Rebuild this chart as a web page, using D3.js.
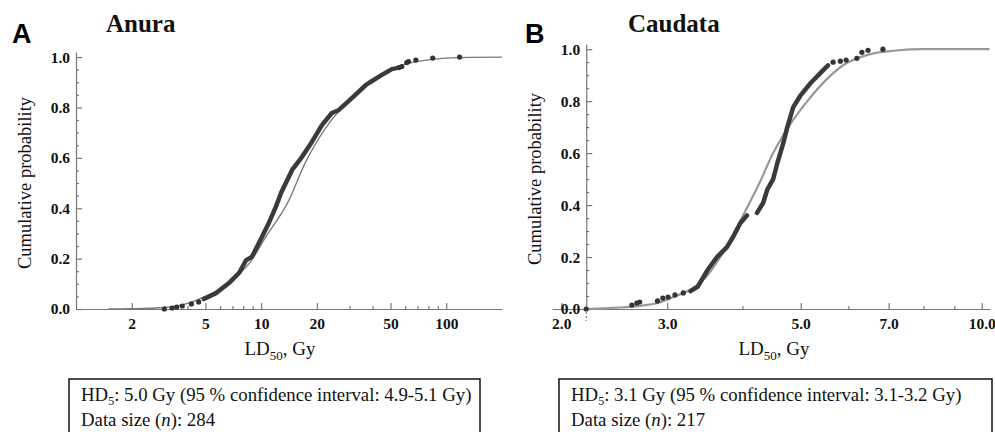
<!DOCTYPE html>
<html>
<head>
<meta charset="utf-8">
<script src="https://cdn.jsdelivr.net/npm/d3@7"></script>
<style>
  body { margin: 0; background: #fff; }
  svg { display: block; }
</style>
</head>
<body>
<svg width="995" height="432"></svg>
<script>
// [LD50 (Gy), cumulative probability]
var anuraDots = [[3.0,0],[3.3,0.004],[3.5,0.008],[3.75,0.012],[4.2,0.02],[4.6,0.028]];
var anuraTrace = [[4.9,0.04],[5.7,0.063],[6.7,0.103],[7.6,0.143],[8.3,0.194],[8.9,0.206],
  [10.1,0.286],[11.0,0.341],[12.0,0.405],[12.8,0.46],[13.6,0.5],[14.7,0.552],[16.6,0.603],
  [18.8,0.663],[21.3,0.73],[24.1,0.778],[26.3,0.79],[30.9,0.837],[36.8,0.889],[38.2,0.897],
  [44.9,0.929],[50.8,0.952],[53.4,0.955]];
var anuraDotsHigh = [[55.5,0.958],[57.5,0.962],[61.2,0.978],[62.5,0.982],[68.5,0.988],[84.5,0.996],[118,1.0]];
var anuraFit = [[1.5,0],[2.0,0.001],[3.0,0.006],[4.0,0.022],[5.0,0.05],[5.7,0.066],[7.3,0.127],
  [8.6,0.18],[10.6,0.286],[14.1,0.43],[17.3,0.58],[23.3,0.738],[32.5,0.85],[43.3,0.925],
  [57.5,0.968],[87,0.992],[132,0.999],[200,1.0]];

var caudataDots = [[2.2,0],[2.62,0.015],[2.67,0.023],[2.7,0.027],[2.89,0.031],[2.95,0.042],
  [3.01,0.046],[3.09,0.054],[3.19,0.062]];
var caudataTrace1 = [[3.28,0.069],[3.37,0.085],[3.5,0.15],[3.63,0.2],[3.77,0.238],[3.86,0.277],
  [3.97,0.331],[4.07,0.36]];
var caudataTrace2 = [[4.23,0.37],[4.33,0.408],[4.4,0.46],[4.5,0.5],[4.57,0.56],[4.68,0.64],
  [4.75,0.7],[4.86,0.777],[4.99,0.82],[5.19,0.869],[5.39,0.908],[5.55,0.938]];
var caudataDotsHigh = [[5.66,0.95],[5.82,0.954],[5.95,0.958],[6.2,0.965],[6.32,0.988],[6.47,0.996],[6.85,1.0]];
var caudataFit = [[2.2,0],[2.48,0.005],[2.7,0.012],[2.89,0.023],[3.1,0.05],[3.28,0.075],[3.5,0.13],
  [3.72,0.22],[4.01,0.36],[4.28,0.49],[4.5,0.6],[4.8,0.71],[5.13,0.8],[5.5,0.88],[5.9,0.94],
  [6.5,0.98],[7.2,0.995],[8,1.0],[10.3,1.0]];

var yMajor = [0, 0.2, 0.4, 0.6, 0.8, 1.0];
var yMinor = d3.range(0, 21).map(function(i){ return i*0.05; }).filter(function(d){ return Math.round(d*100) % 20 != 0; });
var anuraXMajor = [2, 5, 10, 20, 50, 100];
var anuraXMinor = [3, 4, 6, 7, 8, 9, 30, 40, 60, 70, 80, 90];
var caudataXMajor = [2, 3, 5, 7, 10];
var caudataXMinor = [4, 6, 8, 9];

var SERIF = '"Liberation Serif", "Times New Roman", serif';
var SANS = '"Liberation Sans", Arial, sans-serif';
var svg = d3.select('svg');

function serifText(sel) {
  return sel.append('text').style('font-family', SERIF).attr('fill', '#111');
}

function panel(o) {
  var x = d3.scaleLog().domain(o.xDomain).range(o.xRange);
  var y = d3.scaleLinear().domain([0, 1.02]).range([309, o.yTop]);
  var g = svg.append('g');
  var axisColor = '#777';

  // x axis
  g.append('g').attr('transform', 'translate(0,309)')
    .call(d3.axisBottom(x).tickValues(o.xMajor).tickSizeInner(-6).tickSizeOuter(0)
      .tickPadding(9).tickFormat(o.xFormat));
  g.append('g').attr('transform', 'translate(0,309)')
    .call(d3.axisBottom(x).tickValues(o.xMinor).tickSizeInner(-3).tickSizeOuter(0).tickFormat(''))
    .select('.domain').remove();

  // y axis
  g.append('g').attr('transform', 'translate(' + x(o.yAt) + ',0)')
    .call(d3.axisLeft(y).tickValues(yMajor).tickSizeInner(-6).tickSizeOuter(0)
      .tickPadding(6).tickFormat(d3.format('.1f')));
  g.append('g').attr('transform', 'translate(' + x(o.yAt) + ',0)')
    .call(d3.axisLeft(y).tickValues(yMinor).tickSizeInner(-3).tickSizeOuter(0).tickFormat(''))
    .select('.domain').remove();

  g.selectAll('.domain, .tick line').attr('stroke', axisColor).attr('stroke-width', 1.2);
  g.selectAll('.tick text').style('font-family', SERIF).style('font-size', '15.5px')
    .style('font-weight', 'bold').attr('fill', '#111');

  if (o.dashTick) {
    g.append('line').attr('x1', x(o.yAt)).attr('x2', x(o.yAt)).attr('y1', 312).attr('y2', 321)
      .attr('stroke', '#666').attr('stroke-dasharray', '2,2');
  }

  var line = d3.line().x(function(d){ return x(d[0]); }).y(function(d){ return y(d[1]); });

  // fitted curve
  g.append('path').datum(o.fit).attr('d', line.curve(d3.curveMonotoneX))
    .attr('fill', 'none').attr('stroke', o.fitColor).attr('stroke-width', o.fitWidth);

  // empirical data
  var plain = d3.line().x(function(d){ return x(d[0]); }).y(function(d){ return y(d[1]); });
  o.traces.forEach(function(t) {
    g.append('path').datum(t).attr('d', plain)
      .attr('fill', 'none').attr('stroke', '#3a3a3a').attr('stroke-width', 4.5)
      .attr('stroke-linecap', 'round').attr('stroke-linejoin', 'round');
  });
  g.selectAll('circle.pt').data(o.dots).enter().append('circle')
    .attr('cx', function(d){ return x(d[0]); })
    .attr('cy', function(d){ return y(d[1]); })
    .attr('r', 2.6).attr('fill', '#333');

  // labels
  svg.append('text').attr('x', o.letterX).attr('y', 43)
    .style('font-family', SANS).style('font-weight', 'bold')
    .style('font-size', '27px').text(o.letter);
  serifText(svg).attr('x', o.titleX).attr('y', 32)
    .style('font-weight', 'bold').style('font-size', '25px').text(o.title);

  serifText(svg).style('font-size', '18.5px').attr('text-anchor', 'middle')
    .attr('transform', 'translate(' + o.yLabelX + ',' + o.yLabelY + ') rotate(-90)')
    .text('Cumulative probability');

  var xl = serifText(svg).style('font-size', '19px')
    .attr('text-anchor', 'middle').attr('x', o.xLabelX).attr('y', 355);
  xl.append('tspan').text('LD');
  xl.append('tspan').style('font-size', '13px').attr('dy', 5).text('50');
  xl.append('tspan').attr('dy', -5).text(', Gy');

  // info box
  svg.append('rect').attr('x', o.boxX).attr('y', 379).attr('width', o.boxW).attr('height', 70)
    .attr('fill', 'none').attr('stroke', '#111').attr('stroke-width', 1.5);
  var t1 = serifText(svg).style('font-size', '18.8px')
    .attr('x', o.boxX + 12).attr('y', 401);
  t1.append('tspan').text('HD');
  t1.append('tspan').style('font-size', '12px').attr('dy', 4).text('5');
  t1.append('tspan').attr('dy', -4).text(o.hdText);
  var t2 = serifText(svg).style('font-size', '18.8px')
    .attr('x', o.boxX + 12).attr('y', 426);
  t2.append('tspan').text('Data size (');
  t2.append('tspan').style('font-style', 'italic').text('n');
  t2.append('tspan').text('): ' + o.n);
}

panel({
  xDomain: [1, 200], xRange: [76, 502], yTop: 52, yAt: 1,
  xMajor: anuraXMajor, xMinor: anuraXMinor, xFormat: d3.format('d'),
  fit: anuraFit, fitColor: '#777', fitWidth: 1.3,
  traces: [anuraTrace], dots: anuraDots.concat(anuraDotsHigh),
  letter: 'A', letterX: 12, title: 'Anura', titleX: 106,
  yLabelX: 31, yLabelY: 183, xLabelX: 280,
  boxX: 69, boxW: 411, hdText: ': 5.0 Gy (95 % confidence interval: 4.9-5.1 Gy)', n: 284
});

panel({
  xDomain: [1.93, 10.32], xRange: [552, 990], yTop: 44, yAt: 2.2, dashTick: true,
  xMajor: caudataXMajor, xMinor: caudataXMinor, xFormat: d3.format('.1f'),
  fit: caudataFit, fitColor: '#999', fitWidth: 2.2,
  traces: [caudataTrace1, caudataTrace2], dots: caudataDots.concat(caudataDotsHigh),
  letter: 'B', letterX: 525, title: 'Caudata', titleX: 628,
  yLabelX: 541, yLabelY: 179, xLabelX: 774,
  boxX: 559, boxW: 433, hdText: ': 3.1 Gy (95 % confidence interval: 3.1-3.2 Gy)', n: 217
});
</script>
</body>
</html>
